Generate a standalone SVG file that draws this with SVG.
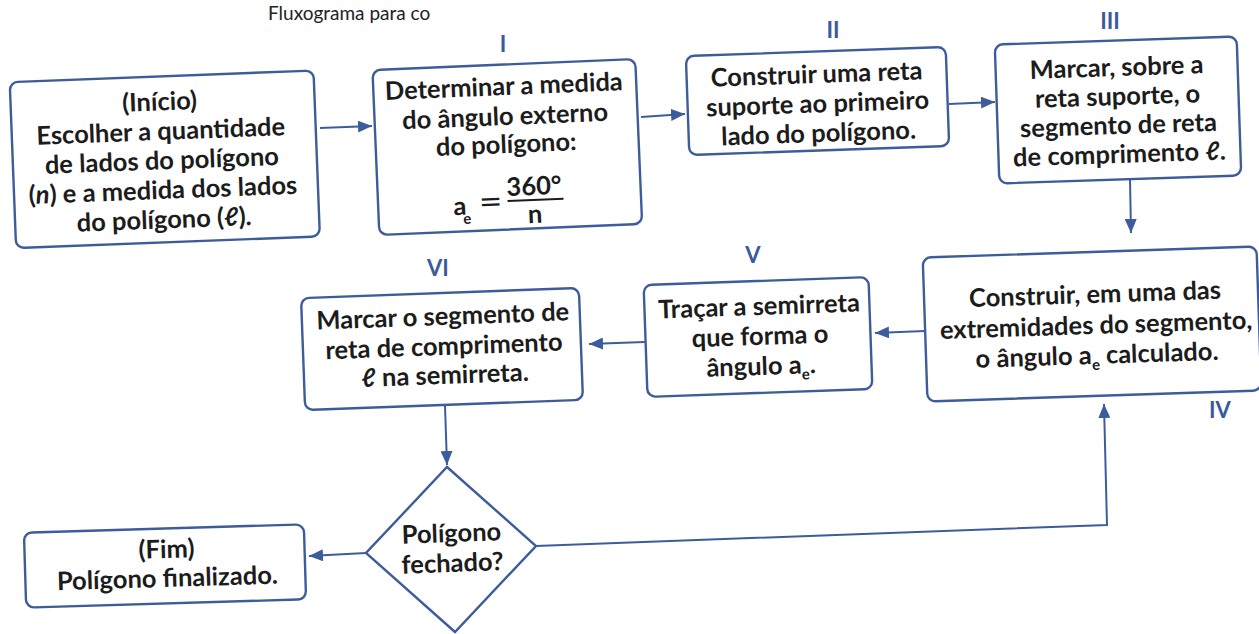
<svg xmlns="http://www.w3.org/2000/svg" width="1259" height="634" viewBox="0 0 1259 634">
<defs>
<style>
.box{fill:#fff;stroke:#3d5c9c;stroke-width:2.4}
.t{font-family:Lato,"Open Sans","Liberation Sans",sans-serif;font-weight:700;font-size:25.5px;fill:#1c1c1c;text-anchor:middle}
.lbl{font-family:Lato,"Open Sans","Liberation Sans",sans-serif;font-weight:700;font-size:22px;fill:#3b5a9e;text-anchor:middle}
.c{fill:none;stroke:#3d5c9c;stroke-width:2}
.sub{font-size:15px}
</style>
<marker id="ah" markerUnits="userSpaceOnUse" markerWidth="16" markerHeight="12" refX="14" refY="6" orient="auto">
<path d="M0,0 L14,6 L0,12 Z" fill="#3d5c9c"/>
</marker>
</defs>
<rect width="1259" height="634" fill="#fff"/>
<text x="268" y="20" font-family="Lato,'Liberation Sans',sans-serif" font-size="19" fill="#222">Fluxograma para co</text>

<g id="connectors">
<line class="c" x1="320" y1="128" x2="372" y2="126" marker-end="url(#ah)"/>
<line class="c" x1="641" y1="117" x2="685" y2="114" marker-end="url(#ah)"/>
<line class="c" x1="949" y1="104" x2="995" y2="102" marker-end="url(#ah)"/>
<line class="c" x1="1130" y1="179" x2="1131" y2="233" marker-end="url(#ah)"/>
<line class="c" x1="925" y1="331" x2="875" y2="333" marker-end="url(#ah)"/>
<line class="c" x1="645" y1="342" x2="589" y2="344" marker-end="url(#ah)"/>
<line class="c" x1="445" y1="406" x2="447" y2="465" marker-end="url(#ah)"/>
<line class="c" x1="366" y1="553" x2="309" y2="556" marker-end="url(#ah)"/>
<polyline class="c" points="536,546 1107,525 1104,404" marker-end="url(#ah)"/>
</g>

<g id="labels">
<text class="lbl" x="503" y="52">I</text>
<text class="lbl" x="833" y="38">II</text>
<text class="lbl" x="1110" y="29">III</text>
<text class="lbl" x="1220" y="418">IV</text>
<text class="lbl" x="753" y="263">V</text>
<text class="lbl" x="438" y="276">VI</text>
</g>

<g id="n-inicio" transform="translate(164.8,159.3) rotate(-2.2)">
<rect class="box" x="-152" y="-83" width="304" height="166" rx="8"/>
<text class="t"><tspan x="-3" y="-49">(Início)</tspan><tspan x="-3" y="-19.5">Escolher a quantidade</tspan><tspan x="-3" y="10">de lados do polígono</tspan><tspan x="-3" y="39.5">(<tspan font-style="italic">n</tspan>) e a medida dos lados</tspan><tspan x="-3" y="69">do polígono (ℓ).</tspan></text>
</g>

<g id="n-I" transform="translate(507.3,147) rotate(-2.4)">
<rect class="box" x="-131.5" y="-82.5" width="263" height="165" rx="8"/>
<text class="t"><tspan x="-1" y="-52">Determinar a medida</tspan><tspan x="-1" y="-22">do ângulo externo</tspan><tspan x="-1" y="6">do polígono:</tspan></text>
<text class="t" x="-50" y="66">a</text>
<text class="t sub" x="-43" y="75">e</text>
<text x="-19" y="63" font-family="'DejaVu Sans',sans-serif" font-size="28" fill="#1c1c1c" text-anchor="middle">=</text>
<text class="t" x="25" y="49">360°</text>
<line x1="-2" y1="54" x2="54" y2="54" stroke="#1c1c1c" stroke-width="2"/>
<text class="t" x="25" y="77">n</text>
</g>

<g id="n-II" transform="translate(817.5,101) rotate(-2)">
<rect class="box" x="-130" y="-49.5" width="260" height="99" rx="8"/>
<text class="t"><tspan x="0" y="-18">Construir uma reta</tspan><tspan x="0" y="11.5">suporte ao primeiro</tspan><tspan x="0" y="41">lado do polígono.</tspan></text>
</g>

<g id="n-III" transform="translate(1118,110) rotate(-1.9)">
<rect class="box" x="-121" y="-69.5" width="242" height="139" rx="8"/>
<text class="t"><tspan x="0" y="-34">Marcar, sobre a</tspan><tspan x="0" y="-5">reta suporte, o</tspan><tspan x="0" y="24">segmento de reta</tspan><tspan x="0" y="53">de comprimento ℓ.</tspan></text>
</g>

<g id="n-IV" transform="translate(1092,324) rotate(-1.9)">
<rect class="box" x="-167" y="-72" width="334" height="144" rx="8"/>
<text class="t"><tspan x="4" y="-21">Construir, em uma das</tspan><tspan x="4" y="10">extremidades do segmento,</tspan><tspan x="4" y="40">o ângulo a<tspan class="sub" dy="6">e</tspan><tspan dy="-6"> calculado.</tspan></tspan></text>
</g>

<g id="n-V" transform="translate(758,337) rotate(-2)">
<rect class="box" x="-112.5" y="-56" width="225" height="112" rx="8"/>
<text class="t"><tspan x="2" y="-22">Traçar a semirreta</tspan><tspan x="2" y="8">que forma o</tspan><tspan x="2" y="38">ângulo a<tspan class="sub" dy="6">e</tspan><tspan dy="-6">.</tspan></tspan></text>
</g>

<g id="n-VI" transform="translate(442,349) rotate(-2.1)">
<rect class="box" x="-139" y="-56" width="278" height="112" rx="8"/>
<text class="t"><tspan x="2" y="-24">Marcar o segmento de</tspan><tspan x="2" y="6">reta de comprimento</tspan><tspan x="2" y="35">ℓ na semirreta.</tspan></text>
</g>

<g id="n-decisao">
<polygon class="box" points="447,467 536,546 455,632 366,553"/>
<g transform="translate(451,549.5) rotate(-2)">
<text class="t"><tspan x="1" y="-7.5">Polígono</tspan><tspan x="1" y="22.5">fechado?</tspan></text>
</g>
</g>

<g id="n-fim" transform="translate(165,566) rotate(-1.7)">
<rect class="box" x="-140" y="-37.5" width="280" height="75" rx="8"/>
<text class="t"><tspan x="2" y="-8">(Fim)</tspan><tspan x="2" y="21">Polígono finalizado.</tspan></text>
</g>
</svg>
